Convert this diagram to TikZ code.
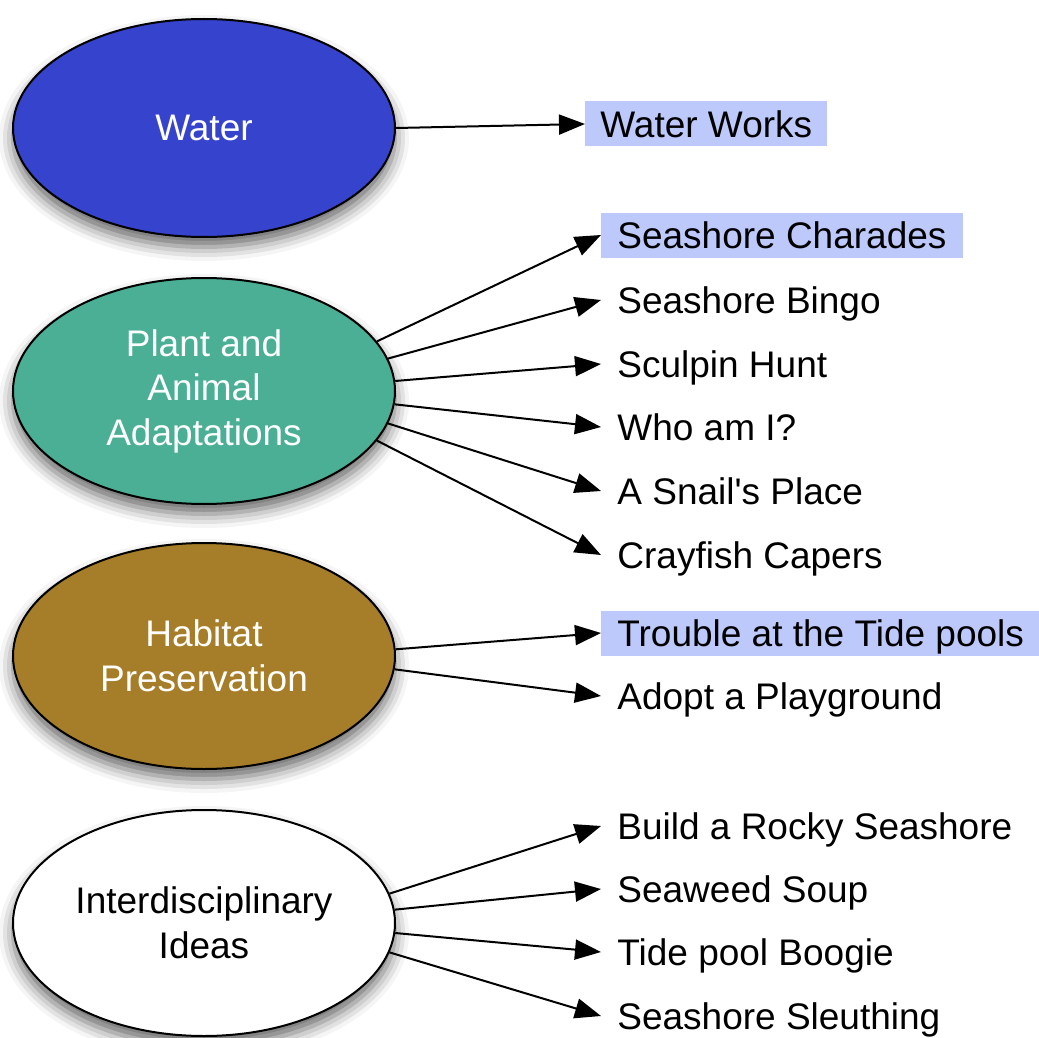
\documentclass[tikz,border=0pt]{standalone}
\usepackage{fontspec}
\setmainfont{Liberation Sans}
\usetikzlibrary{arrows.meta,shapes.geometric,shadows.blur}
\definecolor{waterblue}{RGB}{54,67,204}
\definecolor{plantgreen}{RGB}{74,175,148}
\definecolor{habitatbrown}{RGB}{166,125,40}
\definecolor{pickblue}{RGB}{189,200,251}
\tikzset{
  topic/.style={ellipse, draw=black, line width=1pt, minimum width=191pt,
    minimum height=113pt, inner sep=0pt, text=white, align=center,
    blur shadow={shadow xshift=0pt, shadow yshift=-5pt, shadow blur radius=7pt, shadow opacity=60}},
  activity/.style={anchor=west, inner xsep=8pt, inner ysep=0pt, text height=17.9pt, text depth=4.6pt},
  picked/.style={activity, fill=pickblue},
  link/.style={-{Triangle[length=13pt,width=10pt]}, line width=1pt}
}
\begin{document}
\begin{tikzpicture}[x=0.5pt,y=-0.5pt,font=\fontsize{18.5}{22.25}\selectfont]
\useasboundingbox (0,0) rectangle (1039,1038);
% topics
\node[topic, fill=waterblue, minimum height=109pt] (water) at (204,128) {Water};
\node[topic, fill=plantgreen] (plant) at (204,391) {Plant and\\Animal\\Adaptations};
\node[topic, fill=habitatbrown] (habitat) at (204,656) {Habitat\\Preservation};
\node[topic, fill=white, text=black] (ideas) at (204,923) {Interdisciplinary\\Ideas};
% activities
\node[picked, inner xsep=7.5pt] (works) at (585,124) {Water Works};
\node[picked] (charades) at (601,235) {Seashore Charades};
\node[activity] (bingo) at (601,300) {Seashore Bingo};
\node[activity] (sculpin) at (601,364) {Sculpin Hunt};
\node[activity] (who) at (601,427) {Who am I?};
\node[activity] (snail) at (601,491) {A Snail\textquotesingle s Place};
\node[activity] (crayfish) at (601,555) {Crayfish Capers};
\node[picked] (trouble) at (601,633) {Trouble at the Tide pools};
\node[activity] (adopt) at (601,696) {Adopt a Playground};
\node[activity] (rocky) at (601,826) {Build a Rocky Seashore};
\node[activity] (soup) at (601,889) {Seaweed Soup};
\node[activity] (boogie) at (601,952) {Tide pool Boogie};
\node[activity] (sleuth) at (601,1016) {Seashore Sleuthing};
% links
\draw[link] (water.east) -- (works.west);
\foreach \a/\t in {16/charades,10/bingo,3/sculpin,-4/who,-10/snail,-16/crayfish}
  \draw[link] (plant.\a) -- (\t.west);
\foreach \a/\t in {2/trouble,-4/adopt}
  \draw[link] (habitat.\a) -- (\t.west);
\foreach \a/\t in {9/rocky,4/soup,-3/boogie,-9/sleuth}
  \draw[link] (ideas.\a) -- (\t.west);
\end{tikzpicture}
\end{document}
